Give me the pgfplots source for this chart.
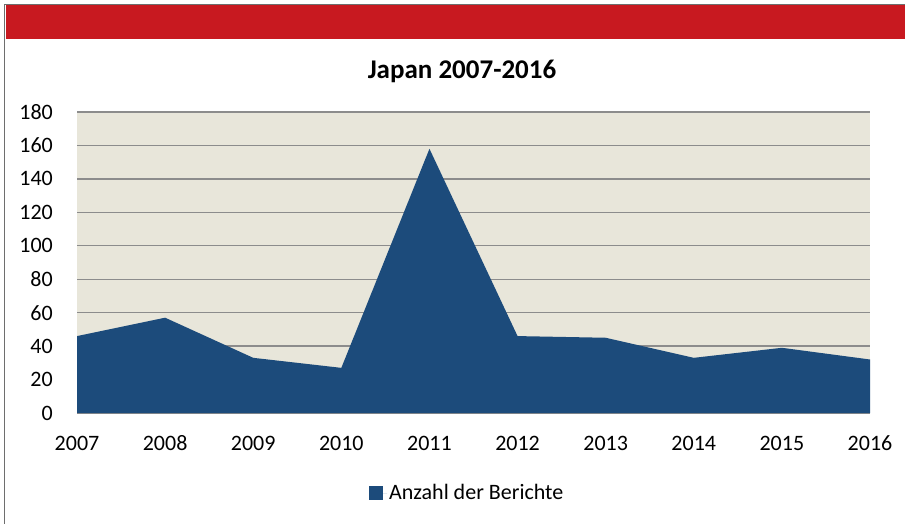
\documentclass[border=0pt]{standalone}
\usepackage{pgfplots}
\pgfplotsset{compat=1.18}
\usepackage{fontspec}
\setmainfont{Carlito}
\definecolor{areablue}{RGB}{28,75,123}
\definecolor{plotbg}{RGB}{232,230,218}
\definecolor{bandred}{RGB}{200,25,32}
\definecolor{gridgray}{RGB}{140,140,140}
\definecolor{framegray}{RGB}{110,110,110}
\begin{document}
\begin{tikzpicture}[x=1bp,y=1bp]
\useasboundingbox (0,0) rectangle (905,-524);
\fill[white] (0,0) rectangle (905,-524);
\fill[bandred] (5.5,-5.5) rectangle (905,-39);
\draw[framegray, line width=1.5bp] (4.5,-524) -- (4.5,-4.5) -- (905,-4.5);
\node[font=\fontsize{27bp}{32bp}\selectfont\bfseries] at (462,-71) {Japan 2007-2016};
\begin{axis}[
  at={(77bp,-413bp)}, anchor=south west,
  scale only axis, width=793bp, height=301bp,
  xmin=2007, xmax=2016, ymin=0, ymax=180,
  xtick={2007,2008,...,2016}, ytick={0,20,...,180},
  /pgf/number format/.cd, 1000 sep={}, assume math mode=true, /pgfplots/.cd,
  tick label style={font=\fontsize{22bp}{26bp}\selectfont, inner sep=0pt},
  xticklabel style={anchor=north, text height=14bp, text depth=0pt, yshift=-23bp},
  yticklabel style={anchor=east, xshift=-24bp},
  major tick length=0pt,
  ymajorgrids, grid style={gridgray, line width=1.3bp},
  axis line style={draw=none},
  axis background/.style={fill=plotbg},
  legend style={at={(0.492,-0.266)}, anchor=center, draw=none, fill=none,
    font=\fontsize{22bp}{26bp}\selectfont, inner sep=0pt,
    /tikz/every even column/.append style={column sep=0bp}},
  legend cell align=left,
]
\addplot[fill=areablue, draw=none,
  legend image code/.code={\path (0bp,0bp) -- (18bp,0bp); \fill[areablue] (0bp,-7bp) rectangle (14bp,7bp);}]
  coordinates {(2007,46) (2008,57) (2009,33) (2010,27) (2011,158) (2012,46) (2013,45) (2014,33) (2015,39) (2016,32)} \closedcycle;
\addlegendentry{Anzahl der Berichte}
\end{axis}
\end{tikzpicture}
\end{document}
